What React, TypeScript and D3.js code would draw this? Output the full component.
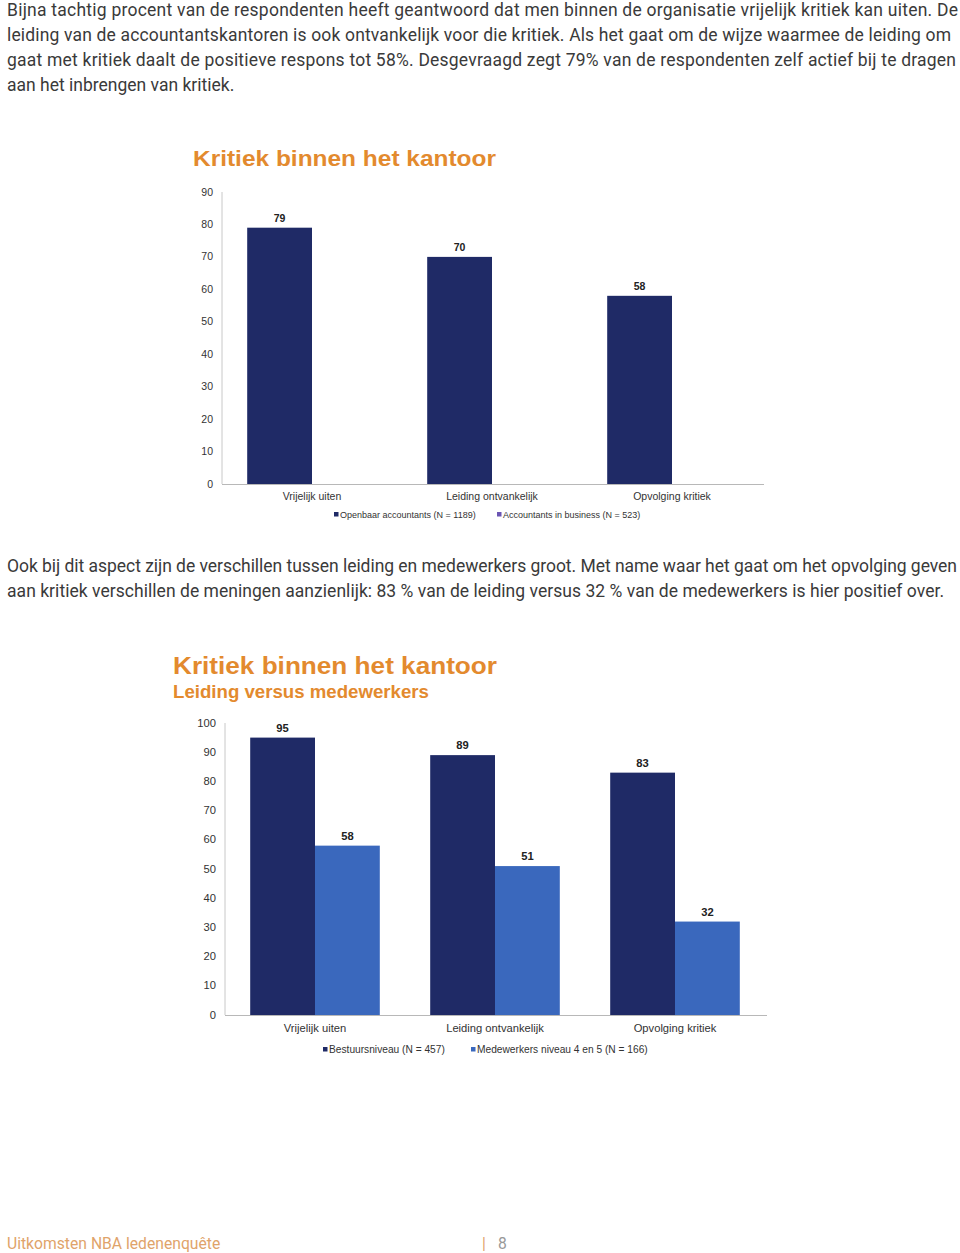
import React from "react";
import * as d3 from "d3";

const categories = ["Vrijelijk uiten", "Leiding ontvankelijk", "Opvolging kritiek"];

// Chart 1
const chart1Series = ["Openbaar accountants (N = 1189)", "Accountants in business (N = 523)"];
const chart1Openbaar = [79, 70, 58];
const chart1Business: (number | null)[] = [null, null, null];
const chart1Ticks = [0, 10, 20, 30, 40, 50, 60, 70, 80, 90];

// Chart 2
const chart2Series = ["Bestuursniveau (N = 457)", "Medewerkers niveau 4 en 5 (N = 166)"];
const chart2Bestuur = [95, 89, 83];
const chart2Medewerkers = [58, 51, 32];
const chart2Ticks = [0, 10, 20, 30, 40, 50, 60, 70, 80, 90, 100];

const para1 = [
  "Bijna tachtig procent van de respondenten heeft geantwoord dat men binnen de organisatie vrijelijk kritiek kan uiten. De",
  "leiding van de accountantskantoren is ook ontvankelijk voor die kritiek. Als het gaat om de wijze waarmee de leiding om",
  "gaat met kritiek daalt de positieve respons tot 58%. Desgevraagd zegt 79% van de respondenten zelf actief bij te dragen",
  "aan het inbrengen van kritiek.",
];
const para1Widths = [951, 944, 949, 0];

const para2 = [
  "Ook bij dit aspect zijn de verschillen tussen leiding en medewerkers groot. Met name waar het gaat om het opvolging geven",
  "aan kritiek verschillen de meningen aanzienlijk: 83 % van de leiding versus 32 % van de medewerkers is hier positief over.",
];
const para2Widths = [950, 937];

const ORANGE = "#E38A2E";
const NAVY = "#1F2A66";
const BLUE = "#3A68BD";
const PURPLE = "#6B55B3";
const AX = "Arial, 'Liberation Sans', sans-serif";
const BODY = "Roboto, 'Open Sans', sans-serif";

type ChartProps = {
  x0: number;
  y0: number;
  yTopPx: number;
  yMax: number;
  ticks: number[];
  series: { name: string; values: (number | null)[]; color: string }[];
  legendX: number[];
  legendY: number;
  catLabelY: number;
  fs: number;
  legendFs: number;
};

function BarChart(p: ChartProps) {
  const width = 540;
  const x = d3.scaleBand<string>().domain(categories).range([p.x0, p.x0 + width]).padding(0);
  const bw = x.bandwidth();
  const inner = d3
    .scaleBand<string>()
    .domain(p.series.map((s) => s.name))
    .range([bw * 0.14, bw * 0.86])
    .padding(0);
  const y = d3.scaleLinear().domain([0, p.yMax]).range([p.y0, p.yTopPx]);
  return (
    <g>
      <line x1={p.x0} x2={p.x0} y1={p.yTopPx} y2={p.y0} stroke="#c8c8c8" strokeWidth={1} />
      <line x1={p.x0} x2={p.x0 + width + 2} y1={p.y0 + 0.5} y2={p.y0 + 0.5} stroke="#b8b8b8" strokeWidth={1} />
      {p.ticks.map((t) => (
        <text key={t} x={p.x0 - 9} y={y(t) + 3.5} textAnchor="end" fontFamily={AX} fontSize={p.fs} fill="#333">
          {t}
        </text>
      ))}
      {categories.map((c, i) => (
        <g key={c}>
          {p.series.map((s) => {
            const v = s.values[i];
            if (v == null) return null;
            const bx = (x(c) as number) + (inner(s.name) as number);
            return (
              <g key={s.name}>
                <rect x={bx} y={y(v)} width={inner.bandwidth()} height={p.y0 - y(v)} fill={s.color} />
                <text
                  x={bx + inner.bandwidth() / 2}
                  y={y(v) - 6}
                  textAnchor="middle"
                  fontFamily={AX}
                  fontWeight="bold"
                  fontSize={p.fs}
                  fill="#222"
                >
                  {v}
                </text>
              </g>
            );
          })}
          <text
            x={(x(c) as number) + bw / 2}
            y={p.catLabelY}
            textAnchor="middle"
            fontFamily={AX}
            fontSize={p.fs}
            fill="#333"
          >
            {c}
          </text>
        </g>
      ))}
      {p.series.map((s, i) => (
        <g key={s.name}>
          <rect x={p.legendX[i]} y={p.legendY - 6} width={4.5} height={4.5} fill={s.color} />
          <text x={p.legendX[i] + 6} y={p.legendY} fontFamily={AX} fontSize={p.legendFs} fill="#333">
            {s.name}
          </text>
        </g>
      ))}
    </g>
  );
}

export default function App() {
  return (
    <svg
      width={960}
      height={1253}
      style={{ position: "absolute", left: 0, top: 0, background: "#fff" }}
      xmlns="http://www.w3.org/2000/svg"
    >
      <rect width={960} height={1253} fill="#fff" />
      {para1.map((l, i) => (
        <text
          key={i}
          x={7}
          y={16 + i * 25}
          fontFamily={BODY}
          fontSize={17.5}
          fill="#3a3a3a"
          {...(para1Widths[i] ? { textLength: para1Widths[i], lengthAdjust: "spacing" } : {})}
        >
          {l}
        </text>
      ))}

      <text x={193} y={166} fontFamily={AX} fontWeight="bold" fontSize={22.5} fill={ORANGE} textLength={303} lengthAdjust="spacingAndGlyphs">
        Kritiek binnen het kantoor
      </text>
      <BarChart
        x0={222}
        y0={484}
        yTopPx={192}
        yMax={90}
        ticks={chart1Ticks}
        series={[
          { name: chart1Series[0], values: chart1Openbaar, color: NAVY },
          { name: chart1Series[1], values: chart1Business, color: PURPLE },
        ]}
        legendX={[334, 497]}
        legendY={518}
        catLabelY={500}
        fs={10.5}
        legendFs={9}
      />

      {para2.map((l, i) => (
        <text
          key={i}
          x={7}
          y={572 + i * 25}
          fontFamily={BODY}
          fontSize={17.5}
          fill="#3a3a3a"
          textLength={para2Widths[i]}
          lengthAdjust="spacing"
        >
          {l}
        </text>
      ))}

      <text x={173} y={674} fontFamily={AX} fontWeight="bold" fontSize={24} fill={ORANGE} textLength={324} lengthAdjust="spacingAndGlyphs">
        Kritiek binnen het kantoor
      </text>
      <text x={173} y={698} fontFamily={AX} fontWeight="bold" fontSize={18} fill={ORANGE} textLength={256} lengthAdjust="spacingAndGlyphs">
        Leiding versus medewerkers
      </text>
      <BarChart
        x0={225}
        y0={1015}
        yTopPx={723}
        yMax={100}
        ticks={chart2Ticks}
        series={[
          { name: chart2Series[0], values: chart2Bestuur, color: NAVY },
          { name: chart2Series[1], values: chart2Medewerkers, color: BLUE },
        ]}
        legendX={[323, 471]}
        legendY={1053}
        catLabelY={1032}
        fs={11.2}
        legendFs={10.2}
      />

      <text x={7} y={1249} fontFamily={BODY} fontSize={15.7} fill="#E0A36A">
        Uitkomsten NBA ledenenquête
      </text>
      <text x={482} y={1249} fontFamily={BODY} fontSize={15.7} fill="#E0A36A">
        |
      </text>
      <text x={498} y={1249} fontFamily={BODY} fontSize={15.7} fill="#999">
        8
      </text>
    </svg>
  );
}
